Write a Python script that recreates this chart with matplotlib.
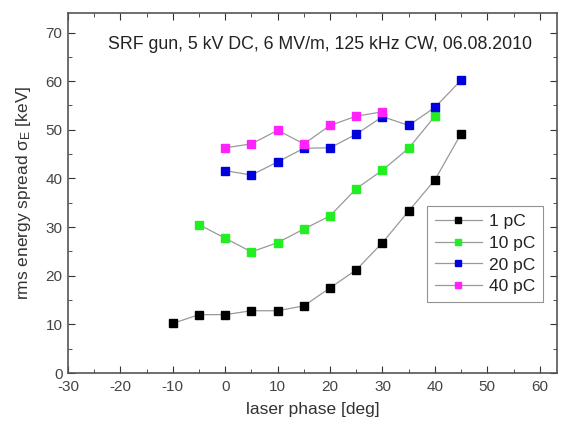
import matplotlib
matplotlib.use("Agg")
import matplotlib.pyplot as plt
from matplotlib.ticker import MultipleLocator

plt.rcParams['font.family'] = ['Liberation Sans', 'DejaVu Sans']
plt.rcParams['axes.unicode_minus'] = False

phase_1pc = [-10, -5, 0, 5, 10, 15, 20, 25, 30, 35, 40, 45]
spread_1pc = [10.2, 12.0, 12.0, 12.8, 12.8, 13.8, 17.5, 21.2, 26.8, 33.3, 39.7, 49.2]
phase_10pc = [-5, 0, 5, 10, 15, 20, 25, 30, 35, 40]
spread_10pc = [30.5, 27.7, 24.9, 26.8, 29.6, 32.3, 37.9, 41.7, 46.2, 52.8]
phase_20pc = [0, 5, 10, 15, 20, 25, 30, 35, 40, 45]
spread_20pc = [41.6, 40.7, 43.4, 46.2, 46.3, 49.1, 52.7, 50.9, 54.6, 60.2]
phase_40pc = [0, 5, 10, 15, 20, 25, 30]
spread_40pc = [46.3, 47.1, 49.9, 47.1, 50.9, 52.8, 53.7]

labels = ['1 pC', '10 pC', '20 pC', '40 pC']
colors = ['#000000', '#22ee22', '#0000dd', '#ff22ff']

fig = plt.figure(figsize=(5.64, 4.28), dpi=100)
ax = fig.add_axes([0.1206, 0.1285, 0.867, 0.841])

series = [(phase_1pc, spread_1pc), (phase_10pc, spread_10pc),
          (phase_20pc, spread_20pc), (phase_40pc, spread_40pc)]
for (x, y), lab, c in zip(series, labels, colors):
    ax.plot(x, y, '-', color='#999999', lw=0.9, marker='s', markersize=6,
            markerfacecolor=c, markeredgecolor=c, label=lab)

ax.set_xlim(-30, 63.3)
ax.set_ylim(0, 74)
ax.xaxis.set_major_locator(MultipleLocator(10))
ax.xaxis.set_minor_locator(MultipleLocator(5))
ax.yaxis.set_major_locator(MultipleLocator(10))
ax.yaxis.set_minor_locator(MultipleLocator(5))
ax.tick_params(which='both', direction='in', top=True, right=True,
               labeltop=False, labelright=False, colors='#333333',
               labelcolor='#444444', labelsize=11)
ax.tick_params(which='major', length=5, pad=5)
ax.tick_params(which='minor', length=3)
ax.tick_params(axis='y', which='major', pad=4)
for s in ax.spines.values():
    s.set_color('#555555')
    s.set_linewidth(1.2)

ax.set_xlabel('laser phase [deg]', fontsize=12.5, color='#333333', labelpad=6)
ax.set_ylabel(r'rms energy spread $\mathregular{\sigma_E}$ [keV]', fontsize=12.5,
              color='#333333', labelpad=9)

ax.text(0.515, 0.914, 'SRF gun, 5 kV DC, 6 MV/m, 125 kHz CW, 06.08.2010',
        transform=ax.transAxes, ha='center', va='center', fontsize=12.8,
        color='#222222')

leg = ax.legend(loc='lower right', bbox_to_anchor=(0.971, 0.197), fontsize=12.5,
                frameon=True, fancybox=False, edgecolor='#777777',
                handlelength=2.7, handletextpad=0.4, labelspacing=0.38,
                borderpad=0.45, borderaxespad=0, markerscale=0.7)
leg.get_frame().set_linewidth(0.8)
for t in leg.get_texts():
    t.set_color('#222222')

fig.savefig('out.png', dpi=100)
